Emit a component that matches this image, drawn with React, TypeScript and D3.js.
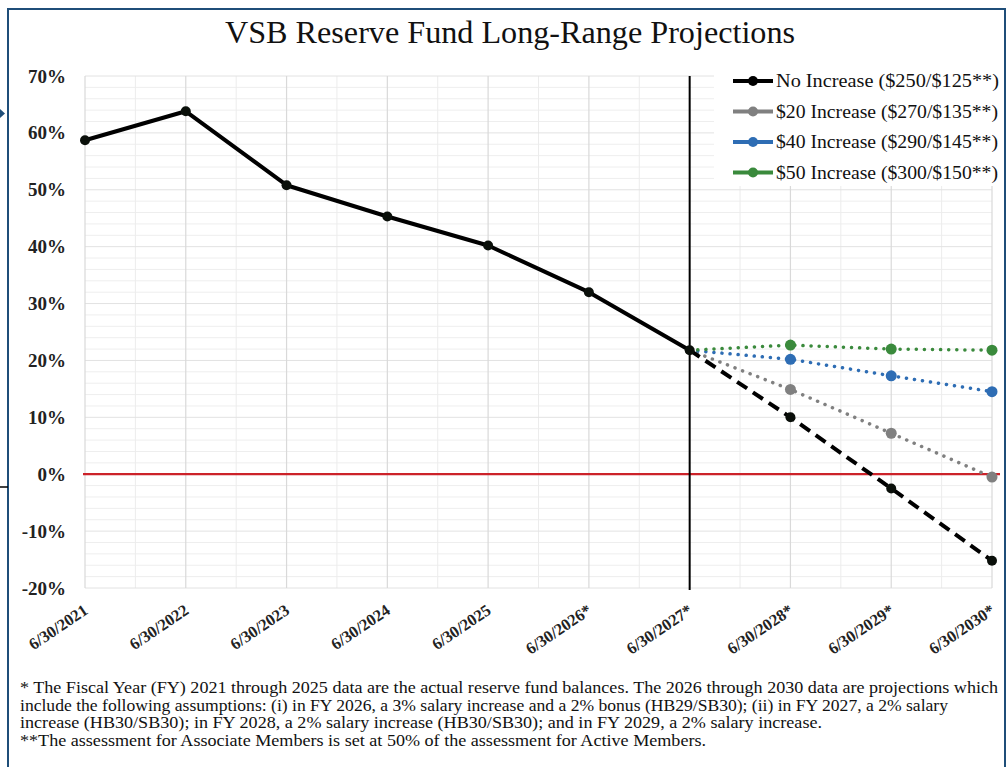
import React from "react";
import * as d3 from "d3";

const categories = [
  "6/30/2021",
  "6/30/2022",
  "6/30/2023",
  "6/30/2024",
  "6/30/2025",
  "6/30/2026*",
  "6/30/2027*",
  "6/30/2028*",
  "6/30/2029*",
  "6/30/2030*",
];

// reserve fund balance, % of target
const noIncrease = [58.7, 63.8, 50.8, 45.3, 40.2, 32.0, 21.8, 10.0, -2.5, -15.2];
const inc20 = [null, null, null, null, null, null, 21.8, 14.9, 7.2, -0.5];
const inc40 = [null, null, null, null, null, null, 21.8, 20.2, 17.3, 14.5];
const inc50 = [null, null, null, null, null, null, 21.8, 22.7, 22.0, 21.8];

const yTicks = [70, 60, 50, 40, 30, 20, 10, 0, -10, -20];

const legendItems = [
  { label: "No Increase ($250/$125**)", color: "#000000", w: 223 },
  { label: "$20 Increase ($270/$135**)", color: "#808080", w: 222 },
  { label: "$40 Increase ($290/$145**)", color: "#2e6db4", w: 222 },
  { label: "$50 Increase ($300/$150**)", color: "#3a8a3c", w: 222 },
];

const footnote = [
  { text: "* The Fiscal Year (FY) 2021 through 2025 data are the actual reserve fund balances. The 2026 through 2030 data are projections which", w: 978 },
  { text: "include the following assumptions: (i) in FY 2026, a 3% salary increase and a 2% bonus (HB29/SB30); (ii) in FY 2027, a 2% salary", w: 928 },
  { text: "increase (HB30/SB30); in FY 2028, a 2% salary increase (HB30/SB30); and in FY 2029, a 2% salary increase.", w: 802 },
  { text: "**The assessment for Associate Members is set at 50% of the assessment for Active Members.", w: 686 },
];

const serif = "'Liberation Serif', 'Times New Roman', serif";

const App = () => {
  const width = 1008;
  const height = 767;
  const plot = { left: 85, right: 992, top: 76, bottom: 588 };

  const x = d3
    .scalePoint<number>()
    .domain(d3.range(categories.length))
    .range([plot.left, plot.right]);
  const y = d3.scaleLinear().domain([-20, 70]).range([plot.bottom, plot.top]);

  const line = d3
    .line<number | null>()
    .defined((d) => d !== null)
    .x((_, i) => x(i) as number)
    .y((d) => y(d as number));

  const actual = noIncrease.map((d, i) => (i <= 6 ? d : null));
  const projected = noIncrease.map((d, i) => (i >= 6 ? d : null));

  const step = x.step();
  const minorX = d3.range(categories.length - 1).map((i) => (x(i) as number) + step / 2);
  const minorY = d3.range(-20, 71, 2).filter((v) => v % 10 !== 0);

  const dotted = [
    { data: inc20, color: legendItems[1].color },
    { data: inc40, color: legendItems[2].color },
    { data: inc50, color: legendItems[3].color },
  ];

  return (
    <div style={{ position: "absolute", left: 0, top: 0 }}>
      <svg width={width} height={height} style={{ display: "block", background: "#fff" }}>
        {/* frame */}
        <rect x={8} y={9} width={997} height={770} fill="none" stroke="#1f4e79" strokeWidth={2} />
        <path d="M0,109 L5,113.5 L0,118 Z" fill="#1f4e79" />
        <line x1={0} x2={8} y1={487} y2={487} stroke="#000" strokeWidth={1.5} />

        <text x={510} y={43} textAnchor="middle" fontFamily={serif} fontSize={31} fill="#111" textLength={570} lengthAdjust="spacingAndGlyphs">
          VSB Reserve Fund Long-Range Projections
        </text>

        {/* grid */}
        <g>
          {minorY.map((v) => (
            <line key={"my" + v} x1={plot.left} x2={plot.right} y1={y(v)} y2={y(v)} stroke="#eeeeee" strokeWidth={1} />
          ))}
          {minorX.map((v, i) => (
            <line key={"mx" + i} x1={v} x2={v} y1={plot.top} y2={plot.bottom} stroke="#ececec" strokeWidth={1} />
          ))}
          {yTicks.map((v) => (
            <line key={"gy" + v} x1={plot.left} x2={plot.right} y1={y(v)} y2={y(v)} stroke="#e2e2e2" strokeWidth={1} />
          ))}
          {categories.map((_, i) => (
            <line key={"gx" + i} x1={x(i)} x2={x(i)} y1={plot.top} y2={plot.bottom} stroke="#d9d9d9" strokeWidth={1.2} />
          ))}
        </g>

        {/* y labels */}
        {yTicks.map((v) => (
          <text key={"yl" + v} x={66} y={y(v) + 6.5} textAnchor="end" fontFamily={serif} fontWeight="bold" fontSize={19} fill="#222">
            {v}%
          </text>
        ))}

        {/* x labels */}
        {categories.map((c, i) => (
          <text
            key={"xl" + c}
            transform={`translate(${(x(i) as number) + 4},${613}) rotate(-34)`}
            textAnchor="end"
            fontFamily={serif}
            fontWeight="bold"
            fontSize={16.5}
            fill="#222"
          >
            {c}
          </text>
        ))}

        {/* zero line and actual/projected divider */}
        <line x1={83} x2={1000} y1={y(0)} y2={y(0)} stroke="#cc2229" strokeWidth={2.2} />
        <line x1={x(6)} x2={x(6)} y1={plot.top} y2={plot.bottom + 2} stroke="#000" strokeWidth={2} />

        {/* series */}
        {dotted.map((s, k) => (
          <g key={"s" + k}>
            <path d={line(s.data) || ""} fill="none" stroke={s.color} strokeWidth={3.5} strokeLinecap="round" strokeDasharray="0.1 8" />
            {s.data.map((d, i) =>
              d === null || i === 6 ? null : <circle key={i} cx={x(i)} cy={y(d)} r={5.5} fill={s.color} />
            )}
          </g>
        ))}
        <path d={line(actual) || ""} fill="none" stroke="#000" strokeWidth={4} strokeLinejoin="round" />
        <path d={line(projected) || ""} fill="none" stroke="#000" strokeWidth={4} strokeDasharray="12 7" />
        {noIncrease.map((d, i) => (
          <circle key={"b" + i} cx={x(i)} cy={y(d)} r={5} fill="#0a0f0a" />
        ))}

        {/* legend */}
        <rect x={714} y={66} width={286} height={120} fill="#fff" />
        {legendItems.map((l, i) => (
          <g key={l.label} transform={`translate(0,${81 + i * 30.5})`}>
            <line x1={733} x2={773} y1={0} y2={0} stroke={l.color} strokeWidth={4} />
            <circle cx={753} cy={0} r={5} fill={l.color} />
            <text x={776} y={6} fontFamily={serif} fontSize={18.5} fill="#111" textLength={l.w} lengthAdjust="spacingAndGlyphs">
              {l.label}
            </text>
          </g>
        ))}

        {/* footnote */}
        {footnote.map((f, i) => (
          <text
            key={"fn" + i}
            x={20}
            y={693 + i * 17.7}
            fontFamily={serif}
            fontSize={16}
            fill="#111"
            textLength={f.w}
            lengthAdjust="spacingAndGlyphs"
          >
            {f.text}
          </text>
        ))}
      </svg>
    </div>
  );
};

export default App;
